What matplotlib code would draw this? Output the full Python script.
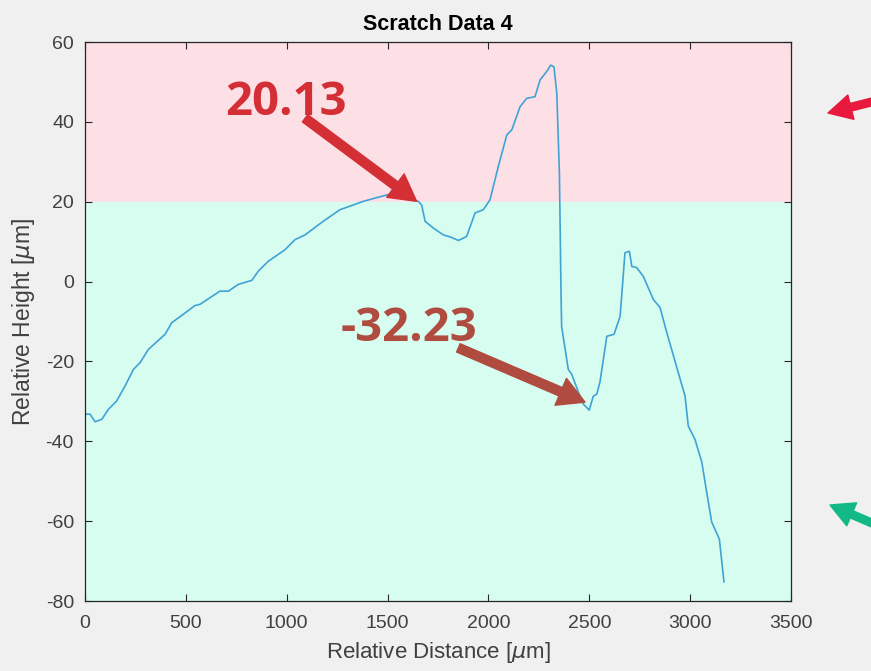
import numpy as np
import matplotlib
matplotlib.use("Agg")
import matplotlib.pyplot as plt

# ---------------- DATA ----------------
distance = [0, 25, 50, 83, 116, 157, 198, 240, 273, 314, 397, 430, 479, 545, 570,
            669, 711, 760, 827, 859, 909, 992, 1041, 1091, 1181, 1264, 1380, 1496,
            1537, 1611, 1652, 1669, 1686, 1727, 1776, 1810, 1851, 1892, 1934, 1975,
            2008, 2049, 2091, 2116, 2157, 2190, 2231, 2256, 2289, 2309, 2325, 2339,
            2352, 2360, 2363, 2396, 2413, 2446, 2471, 2500, 2520, 2537, 2553, 2587,
            2623, 2653, 2677, 2699, 2711, 2735, 2768, 2818, 2851, 2884, 2934, 2975,
            2991, 3024, 3058, 3082, 3107, 3145, 3168]
height = [-33.2, -33.2, -35.1, -34.5, -32.0, -29.9, -26.2, -22.0, -20.3, -17.0,
          -13.2, -10.3, -8.5, -6.0, -5.7, -2.4, -2.4, -0.7, 0.3, 2.6, 5.1, 8.0,
          10.5, 11.7, 15.1, 18.0, 20.1, 21.7, 22.0, 20.7, 20.1, 19.2, 15.1, 13.4,
          11.7, 11.2, 10.3, 11.3, 17.2, 18.0, 20.5, 28.8, 36.7, 38.0, 43.8, 45.9,
          46.3, 50.5, 52.6, 54.2, 53.8, 47.2, 27.2, -2.7, -11.2, -22.0, -23.2,
          -27.7, -30.7, -32.2, -28.7, -28.2, -25.2, -13.7, -13.2, -8.7, 7.2, 7.6,
          3.8, 3.5, 1.3, -4.5, -6.5, -12.7, -21.5, -28.7, -36.2, -39.5, -45.2,
          -52.7, -60.2, -64.5, -75.2]

threshold = 20
peak_label = "20.13"
peak_point = (1644, 20.1)
peak_tail = (1091, 40.9)
peak_text = (694, 41.7)
valley_label = "-32.23"
valley_point = (2479, -30.2)
valley_tail = (1851, -16.6)
valley_text = (1268, -15.0)

plt.rcParams['font.family'] = ['Liberation Sans', 'DejaVu Sans']
plt.rcParams['mathtext.fontset'] = 'dejavusans'
plt.rcParams['axes.unicode_minus'] = False

# ---------------- PLOT ----------------
fig = plt.figure(figsize=(8.71, 6.71), dpi=100, facecolor='#f0f0f0')
ax = fig.add_axes([0.0976, 0.1043, 0.8105, 0.8331])

ax.axhspan(threshold, 60, color='#fde0e5', lw=0, zorder=0)
ax.axhspan(-80, threshold, color='#d7fdf1', lw=0, zorder=0)
ax.plot(distance, height, color='#3fa3d6', lw=1.2, zorder=2)

ax.set_xlim(0, 3500)
ax.set_ylim(-80, 60)
ax.set_xticks(np.arange(0, 3501, 500))
ax.set_yticks(np.arange(-80, 61, 20))
ax.tick_params(direction='in', length=5, width=0.8, top=True, right=True,
               labelsize=14, colors='#262626', labelcolor='#404040')
ax.tick_params(axis='x', pad=10)
ax.tick_params(axis='y', pad=8)
for s in ax.spines.values():
    s.set_color('#262626')
    s.set_linewidth(0.9)

ax.set_title("Scratch Data 4", fontsize=15.5, fontweight='bold', color='#000000', pad=9)
ax.set_xlabel(r"Relative Distance [$\mu$m]", fontsize=16, color='#404040', labelpad=6)
ax.set_ylabel(r"Relative Height [$\mu$m]", fontsize=16.5, color='#404040', labelpad=6)

# annotations
ax.text(peak_text[0], peak_text[1], peak_label, fontsize=34, fontweight='bold',
        family='Open Sans', color='#d32f35', ha='left', va='baseline', zorder=5)
ax.annotate('', xy=peak_point, xytext=peak_tail,
            arrowprops=dict(color='#d32f35', width=6.5, headwidth=21, headlength=19, shrink=0),
            zorder=5)
ax.text(valley_text[0], valley_text[1], valley_label, fontsize=34, fontweight='bold',
        family='Open Sans', color='#b04b3f', ha='left', va='baseline', zorder=5)
ax.annotate('', xy=valley_point, xytext=valley_tail,
            arrowprops=dict(color='#b04b3f', width=6.5, headwidth=21, headlength=19, shrink=0),
            zorder=5)

# side arrows cut by the figure edge
fig.add_artist(plt.Annotation('', xy=(828, 558), xytext=(895, 575),
                              xycoords='figure pixels', textcoords='figure pixels',
                              arrowprops=dict(color='#e8193c', width=5.5, headwidth=18,
                                              headlength=17, shrink=0),
                              annotation_clip=False))
fig.add_artist(plt.Annotation('', xy=(830, 166), xytext=(895, 138),
                              xycoords='figure pixels', textcoords='figure pixels',
                              arrowprops=dict(color='#12b886', width=5.5, headwidth=18,
                                              headlength=17, shrink=0),
                              annotation_clip=False))

fig.savefig("out.png", dpi=100, facecolor=fig.get_facecolor())
